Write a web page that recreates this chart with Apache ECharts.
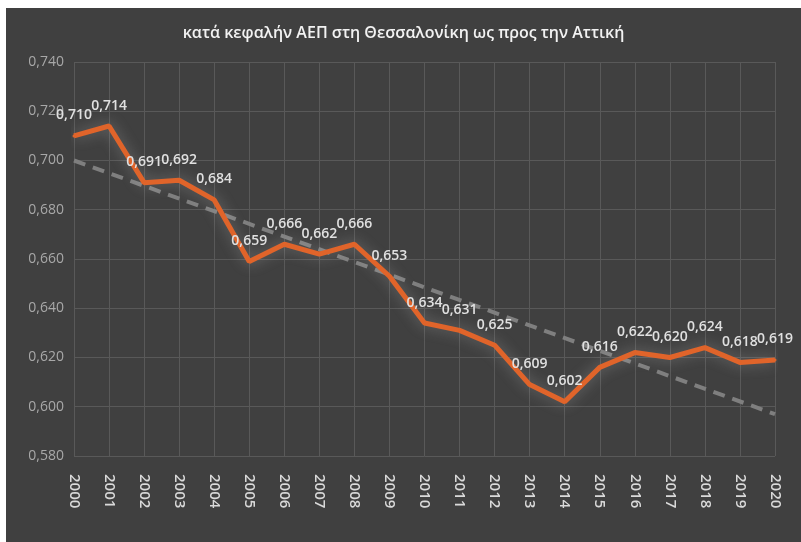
<!DOCTYPE html>
<html><head><meta charset="utf-8">
<script src="https://cdn.jsdelivr.net/npm/echarts@6/dist/echarts.min.js"></script>
<style>
html,body{margin:0;padding:0;background:#fff;width:801px;height:542px;overflow:hidden}
#c{position:absolute;left:6px;top:8px;width:795px;height:534px;background:#404040}
</style></head><body>
<div id="c"></div>
<script>
const titleText = 'κατά κεφαλήν ΑΕΠ στη Θεσσαλονίκη ως προς την Αττική';
const years = ['2000','2001','2002','2003','2004','2005','2006','2007','2008','2009','2010','2011','2012','2013','2014','2015','2016','2017','2018','2019','2020'];
const ratio = [0.710,0.714,0.691,0.692,0.684,0.659,0.666,0.662,0.666,0.653,0.634,0.631,0.625,0.609,0.602,0.616,0.622,0.620,0.624,0.618,0.619];
const trendEnds = [0.700, 0.597];
const yMin = 0.58, yMax = 0.74, yStep = 0.02;

const fmt = v => Number(v).toFixed(3).replace('.', ',');
const chart = echarts.init(document.getElementById('c'));
chart.setOption({
  backgroundColor: '#404040',
  animation: false,
  title: {
    text: titleText, left: 'center', top: 12,
    textStyle: {color: '#f2f2f2', fontSize: 16, fontWeight: 600, fontFamily: 'Open Sans'}
  },
  grid: {left: 68, right: 26, top: 54, bottom: 86},
  xAxis: {
    type: 'category', data: years, boundaryGap: false,
    axisLine: {show: false}, axisTick: {show: false},
    splitLine: {show: true, lineStyle: {color: '#595959', width: 1}},
    axisLabel: {rotate: -90, color: '#d9d9d9', fontSize: 15, fontWeight: 600, fontFamily: 'Open Sans', margin: 18, interval: 0}
  },
  yAxis: {
    type: 'value', min: yMin, max: yMax, interval: yStep,
    axisLine: {show: false}, axisTick: {show: false},
    splitLine: {lineStyle: {color: '#595959', width: 1}},
    axisLabel: {color: '#a8a8a8', fontSize: 14, fontFamily: 'Open Sans', margin: 10, formatter: fmt}
  },
  series: [
    {
      type: 'line', data: [[0, trendEnds[0]], [years.length - 1, trendEnds[1]]],
      symbol: 'none', silent: true, z: 1,
      lineStyle: {color: '#7f7f7f', width: 4, type: [12, 8]}
    },
    {
      type: 'line', data: ratio, symbol: 'circle', symbolSize: 3, showSymbol: true, showAllSymbol: true, z: 3,
      itemStyle: {color: '#e0642a'},
      lineStyle: {color: '#e0642a', width: 5, shadowColor: 'rgba(220,220,220,0.35)', shadowBlur: 14},
      label: {show: true, position: 'top', distance: 12, color: '#e0e0e0', fontSize: 14, fontWeight: 600, fontFamily: 'Open Sans', formatter: p => fmt(p.value)}
    }
  ]
});
</script>
</body></html>
